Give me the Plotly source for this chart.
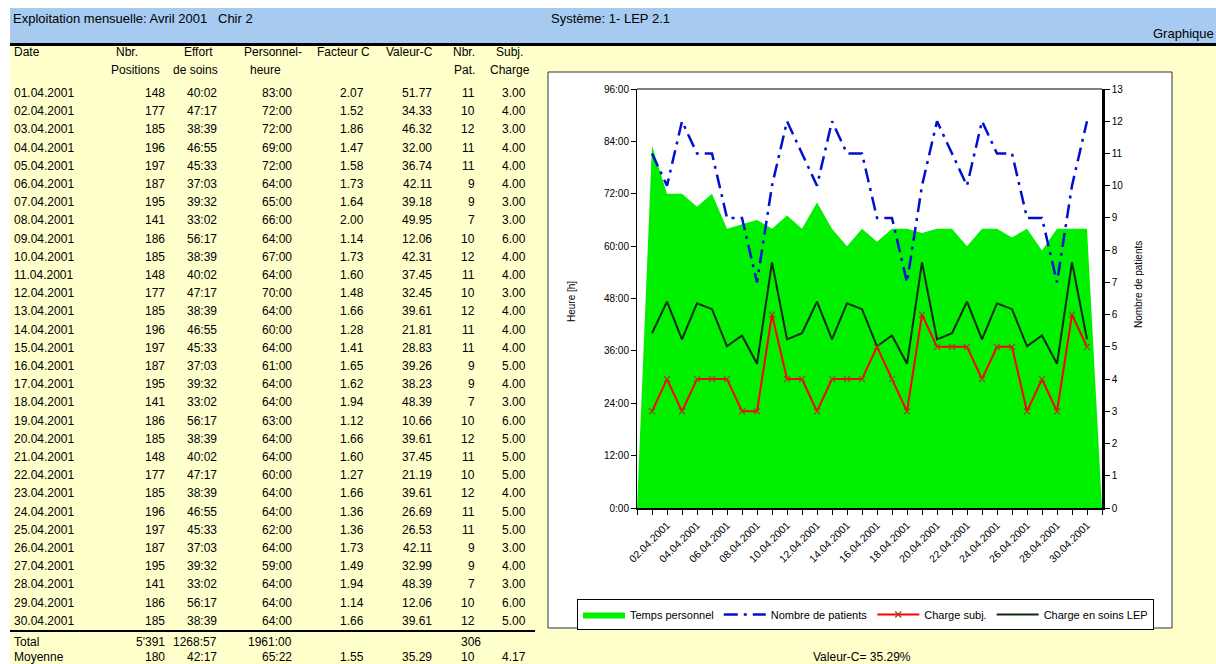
import plotly.graph_objects as go

W, H = 1216, 664

# ---------------- data ----------------
dates = ["01.04.2001", "02.04.2001", "03.04.2001", "04.04.2001", "05.04.2001",
         "06.04.2001", "07.04.2001", "08.04.2001", "09.04.2001", "10.04.2001",
         "11.04.2001", "12.04.2001", "13.04.2001", "14.04.2001", "15.04.2001",
         "16.04.2001", "17.04.2001", "18.04.2001", "19.04.2001", "20.04.2001",
         "21.04.2001", "22.04.2001", "23.04.2001", "24.04.2001", "25.04.2001",
         "26.04.2001", "27.04.2001", "28.04.2001", "29.04.2001", "30.04.2001"]
positions = [148, 177, 185, 196, 197, 187, 195, 141, 186, 185,
             148, 177, 185, 196, 197, 187, 195, 141, 186, 185,
             148, 177, 185, 196, 197, 187, 195, 141, 186, 185]
effort = ["40:02", "47:17", "38:39", "46:55", "45:33", "37:03", "39:32", "33:02", "56:17", "38:39",
          "40:02", "47:17", "38:39", "46:55", "45:33", "37:03", "39:32", "33:02", "56:17", "38:39",
          "40:02", "47:17", "38:39", "46:55", "45:33", "37:03", "39:32", "33:02", "56:17", "38:39"]
personnel = ["83:00", "72:00", "72:00", "69:00", "72:00", "64:00", "65:00", "66:00", "64:00", "67:00",
             "64:00", "70:00", "64:00", "60:00", "64:00", "61:00", "64:00", "64:00", "63:00", "64:00",
             "64:00", "60:00", "64:00", "64:00", "62:00", "64:00", "59:00", "64:00", "64:00", "64:00"]
facteur = [2.07, 1.52, 1.86, 1.47, 1.58, 1.73, 1.64, 2.00, 1.14, 1.73,
           1.60, 1.48, 1.66, 1.28, 1.41, 1.65, 1.62, 1.94, 1.12, 1.66,
           1.60, 1.27, 1.66, 1.36, 1.36, 1.73, 1.49, 1.94, 1.14, 1.66]
valeur = [51.77, 34.33, 46.32, 32.00, 36.74, 42.11, 39.18, 49.95, 12.06, 42.31,
          37.45, 32.45, 39.61, 21.81, 28.83, 39.26, 38.23, 48.39, 10.66, 39.61,
          37.45, 21.19, 39.61, 26.69, 26.53, 42.11, 32.99, 48.39, 12.06, 39.61]
nbr_pat = [11, 10, 12, 11, 11, 9, 9, 7, 10, 12,
           11, 10, 12, 11, 11, 9, 9, 7, 10, 12,
           11, 10, 12, 11, 11, 9, 9, 7, 10, 12]
subj = [3, 4, 3, 4, 4, 4, 3, 3, 6, 4,
        4, 3, 4, 4, 4, 5, 4, 3, 6, 5,
        5, 5, 4, 5, 5, 3, 4, 3, 6, 5]
total_row = ["Total", "5'391", "1268:57", "1961:00", "", "", "306", ""]
moyenne_row = ["Moyenne", "180", "42:17", "65:22", "1.55", "35.29", "10", "4.17"]
hour_ticks = [0, 12, 24, 36, 48, 60, 72, 84, 96]
pat_ticks = list(range(0, 14))


def hm(s):
    h, m = s.split(":")
    return int(h) + int(m) / 60.0


def X(px):
    return px / W


def Y(py):
    return 1 - py / H


idx = list(range(len(dates)))
pers_h = [hm(s) for s in personnel]
eff_h = [hm(s) for s in effort]

fig = go.Figure()

# green area (falls to zero in the empty slots at both ends)
fig.add_trace(go.Scatter(
    x=[idx[0] - 1] + idx + [idx[-1] + 1], y=[0] + pers_h + [0],
    mode="lines", fill="tozeroy", fillcolor="#00F000",
    line=dict(width=0, color="#00F000"), name="Temps personnel",
    yaxis="y"))
fig.add_trace(go.Scatter(
    x=idx, y=nbr_pat, mode="lines", name="Nombre de patients",
    line=dict(color="#0010D0", width=2.5, dash="14px,6px,3px,6px"),
    yaxis="y2"))
fig.add_trace(go.Scatter(
    x=idx, y=subj, mode="lines+markers", name="Charge subj.",
    line=dict(color="#FF0000", width=2),
    marker=dict(symbol="x-thin", size=6, line=dict(width=1.2, color="#A04020")),
    yaxis="y2"))
fig.add_trace(go.Scatter(
    x=idx, y=eff_h, mode="lines", name="Charge en soins LEP",
    line=dict(color="#0F2A0F", width=2), yaxis="y"))

tickvals = list(range(-1, len(dates) + 1))
ticktext = [dates[i] if (0 <= i < len(dates) and i % 2 == 1) else "" for i in tickvals]

fig.update_layout(
    width=W, height=H, margin=dict(l=0, r=0, t=0, b=0),
    paper_bgcolor="#FFFFCC", plot_bgcolor="white",
    font=dict(family="Liberation Sans, Arial, sans-serif", color="black", size=12),
    showlegend=True,
    legend=dict(orientation="h", x=X(577), y=Y(599), xanchor="left", yanchor="top",
                bgcolor="white", bordercolor="black", borderwidth=1,
                font=dict(size=11), traceorder="normal", itemwidth=42),
    xaxis=dict(domain=[X(637), X(1102)], range=[-1, len(dates)],
               tickmode="array", tickvals=tickvals, ticktext=ticktext,
               tickangle=-45, ticks="outside", ticklen=5, tickwidth=1.2,
               tickcolor="black", tickfont=dict(size=10.5),
               showline=True, linecolor="black", linewidth=2,
               showgrid=False, zeroline=False, automargin=False),
    yaxis=dict(domain=[Y(508), Y(89)], range=[0, 96],
               tickmode="array", tickvals=hour_ticks,
               ticktext=[f"{v}:00" for v in hour_ticks],
               ticks="outside", ticklen=5, tickcolor="black",
               tickfont=dict(size=10),
               showline=True, linecolor="black", linewidth=1,
               showgrid=False, zeroline=False, automargin=False),
    yaxis2=dict(overlaying="y", side="right", anchor="x", range=[0, 13],
                tickmode="array", tickvals=pat_ticks,
                ticks="outside", ticklen=5, tickcolor="black", tickwidth=1.2,
                tickfont=dict(size=10),
                showline=True, linecolor="black", linewidth=2.5,
                showgrid=False, zeroline=False, automargin=False),
)

shapes = []
# white sheet margins
shapes.append(dict(type="rect", xref="paper", yref="paper", x0=0, x1=1, y0=Y(8), y1=1,
                   fillcolor="white", line=dict(width=0), layer="below"))
shapes.append(dict(type="rect", xref="paper", yref="paper", x0=0, x1=X(10), y0=0, y1=1,
                   fillcolor="white", line=dict(width=0), layer="below"))
# blue title band
shapes.append(dict(type="rect", xref="paper", yref="paper", x0=X(10), x1=1, y0=Y(43), y1=Y(8),
                   fillcolor="#A6CAF0", line=dict(width=0), layer="below"))
# thick black rule under band
shapes.append(dict(type="line", xref="paper", yref="paper", x0=X(10), x1=1, y0=Y(44.5), y1=Y(44.5),
                   line=dict(color="black", width=3), layer="below"))
# chart white box
shapes.append(dict(type="rect", xref="paper", yref="paper", x0=X(548), x1=X(1172), y0=Y(628), y1=Y(72),
                   fillcolor="white", line=dict(color="#333333", width=1), layer="below"))
# rule above totals
shapes.append(dict(type="line", xref="paper", yref="paper", x0=X(10), x1=X(535), y0=Y(631), y1=Y(631),
                   line=dict(color="black", width=2), layer="below"))
# top frame of plot area
shapes.append(dict(type="line", xref="x", yref="paper", x0=-1, x1=len(dates), y0=Y(89), y1=Y(89),
                   line=dict(color="black", width=1)))
fig.update_layout(shapes=shapes)

ann = []


def txt(x, y, s, anchor="left", size=12, angle=0):
    ann.append(dict(x=X(x), y=Y(y), xref="paper", yref="paper", text=s, showarrow=False,
                    xanchor=anchor, yanchor="middle", font=dict(size=size), textangle=angle))


NB = "\u00a0"
txt(11, 18, "Exploitation mensuelle: Avril 2001" + NB * 3 + "Chir 2", size=13)
txt(549, 18, "Système: 1- LEP 2.1", size=13)
txt(1216, 34, "Graphique", anchor="right", size=13)

# table header
txt(12, 52, "Date")
txt(127, 52, "Nbr.", "center")
txt(135, 70, "Positions", "center")
txt(198, 52, "Effort", "center")
txt(195, 70, "de soins", "center")
txt(273, 52, "Personnel-", "center")
txt(265, 70, "heure", "center")
txt(343, 52, "Facteur C", "center")
txt(409, 52, "Valeur-C", "center")
txt(464, 52, "Nbr.", "center")
txt(464, 70, "Pat.", "center")
txt(509, 52, "Subj.", "center")
txt(510, 70, "Charge", "center")

col_right = [167, 219, 294, 366, 434, 477, 528]
row_y0, row_dy = 93, 18.2
for i in range(len(dates)):
    y = row_y0 + i * row_dy
    vals = [str(positions[i]), effort[i], personnel[i], f"{facteur[i]:.2f}",
            f"{valeur[i]:.2f}", str(nbr_pat[i]), f"{subj[i]:.2f}"]
    txt(12, y, dates[i])
    for xr, v in zip(col_right, vals):
        txt(xr, y, v, "right")

for y, row in ((642, total_row), (657, moyenne_row)):
    txt(12, y, row[0])
    for k, (xr, v) in enumerate(zip(col_right, row[1:])):
        if v:
            txt(xr + (6 if (row is total_row and k == 5) else 0), y, v, "right")

# chart axis titles and footer
txt(571, 302, "Heure [h]", "center", size=10, angle=-90)
txt(1138, 285, "Nombre de patients", "center", size=10, angle=-90)
txt(862, 657, "Valeur-C= 35.29%", "center", size=12)

fig.update_layout(annotations=ann)
fig.write_html("out.html", config={"displayModeBar": False},
               post_script="document.body.style.margin='0px';document.body.style.overflow='hidden';")
